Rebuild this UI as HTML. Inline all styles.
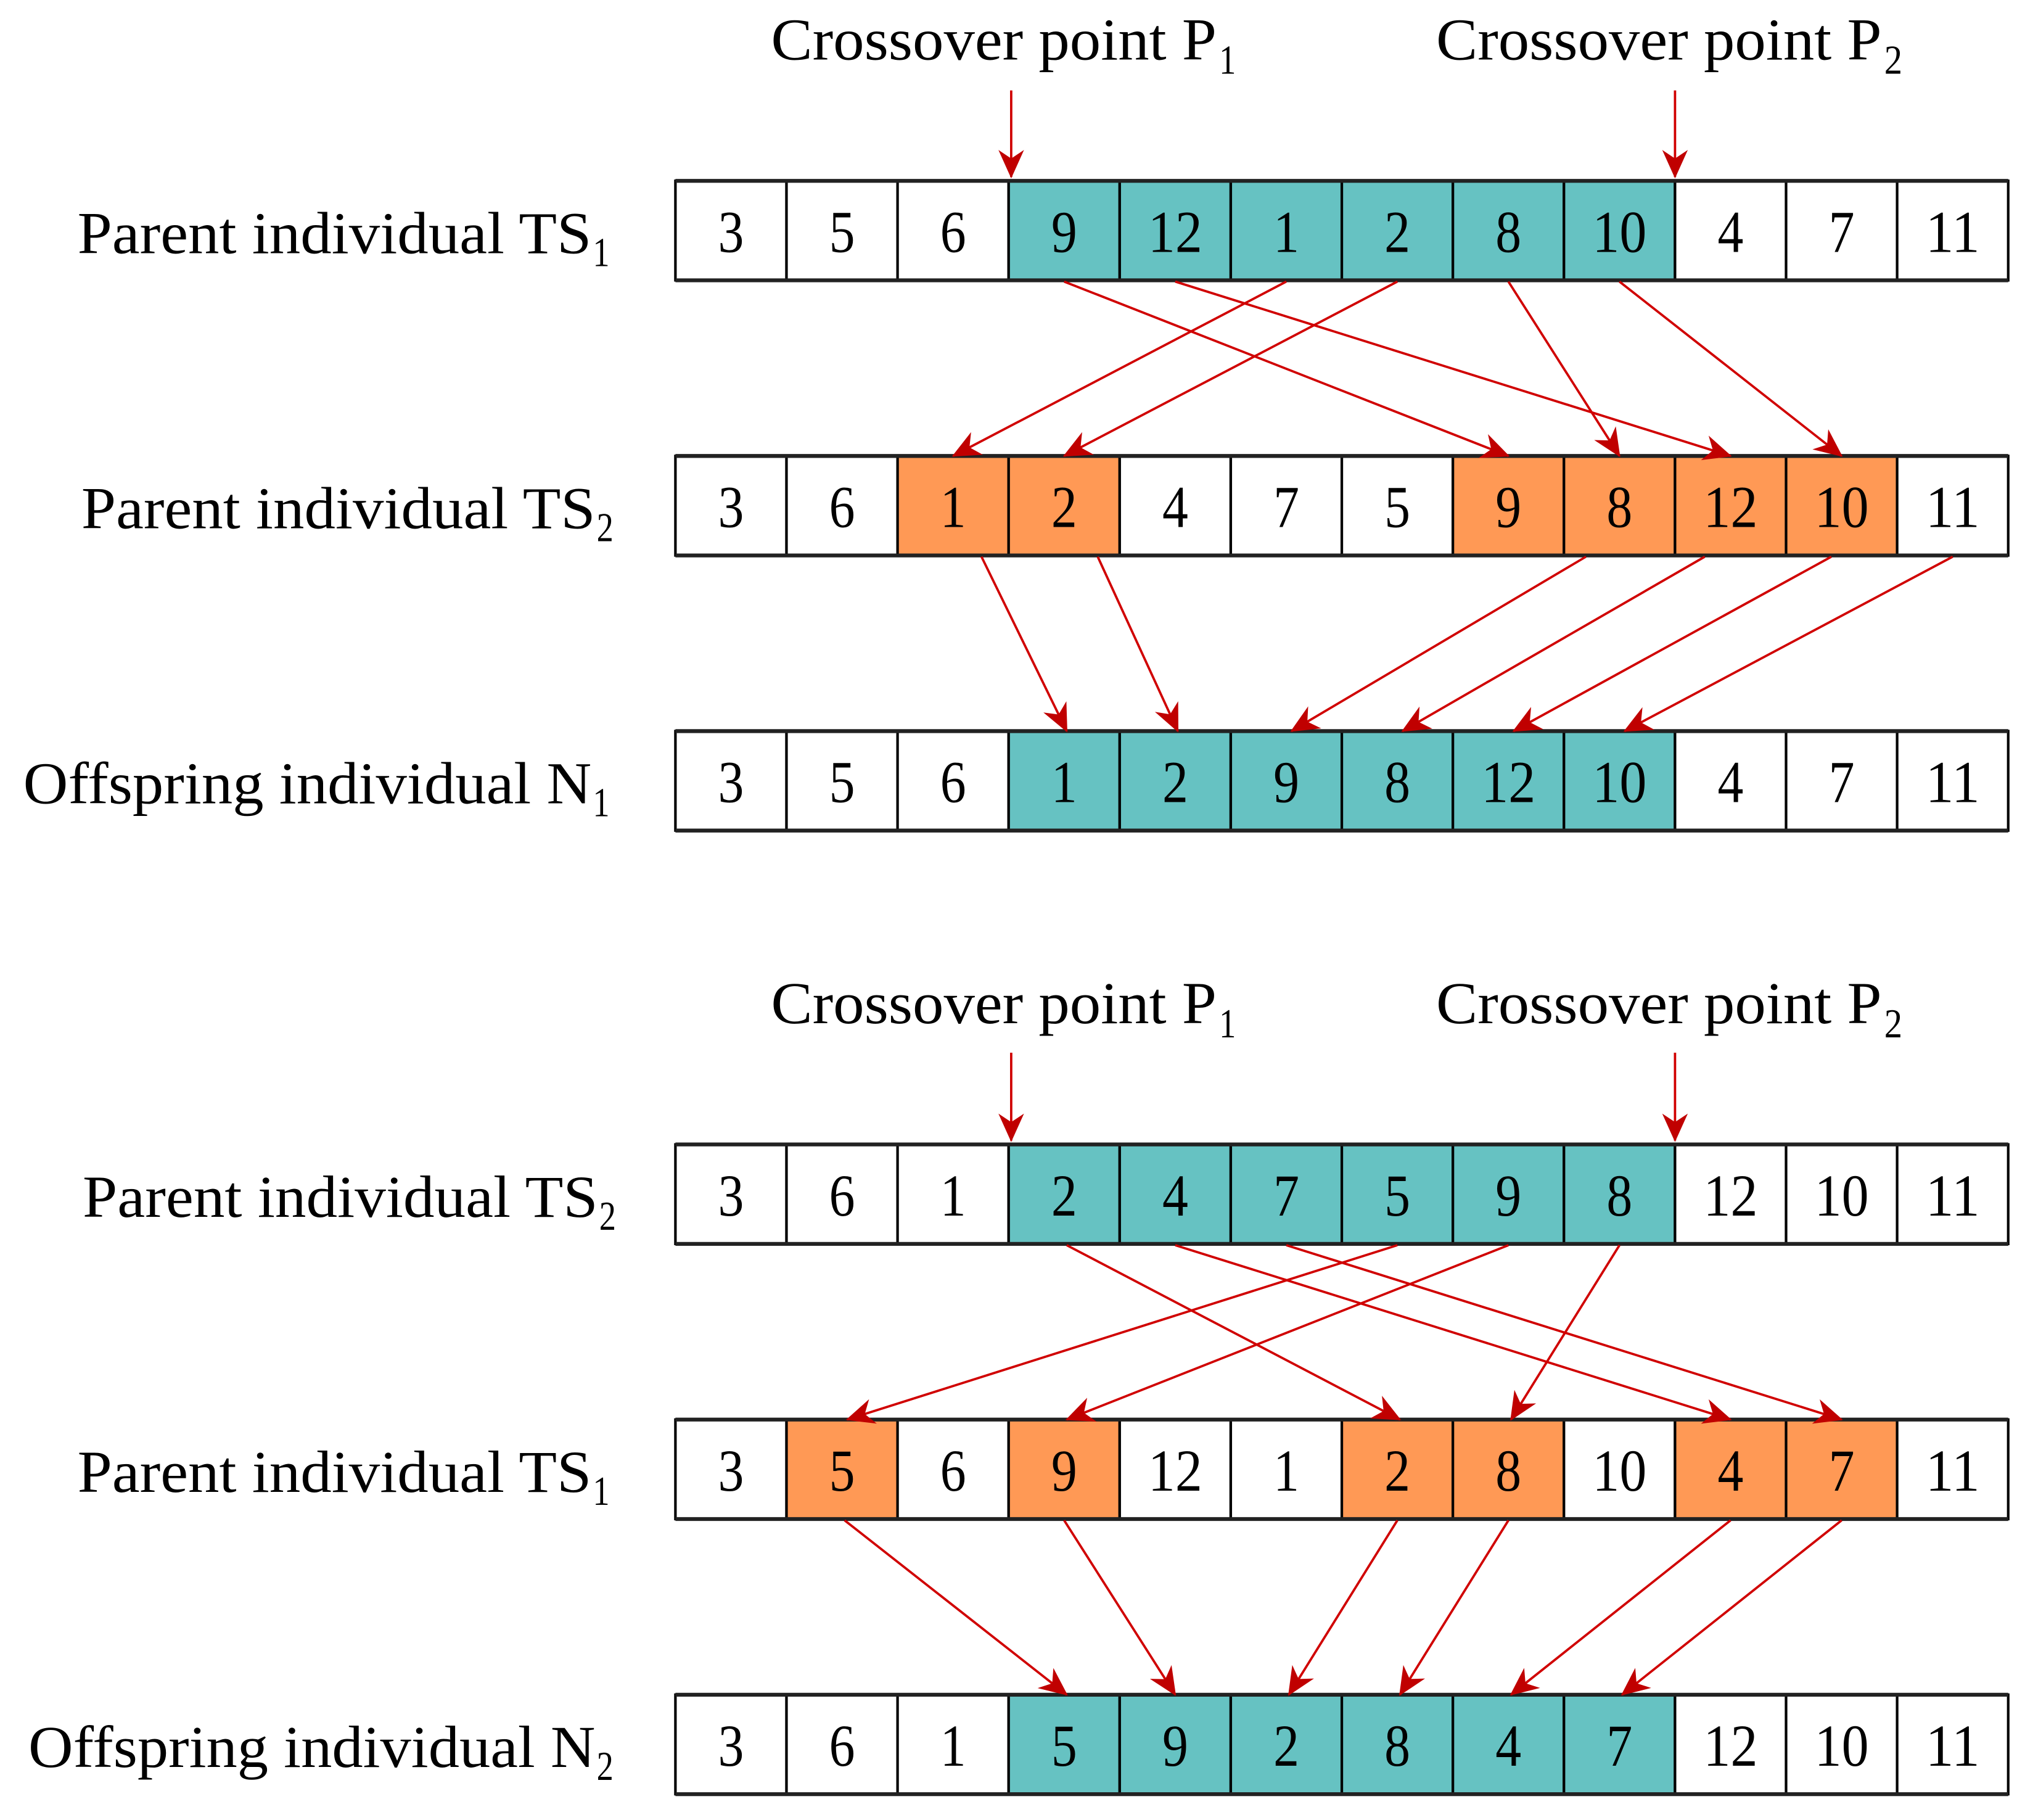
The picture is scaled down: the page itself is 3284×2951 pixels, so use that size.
<!DOCTYPE html>
<html><head><meta charset="utf-8"><style>
html,body{margin:0;padding:0;background:#fff;}
svg{display:block;}
text{font-family:"Liberation Serif",serif;fill:#000;}
</style></head><body>
<svg width="3284" height="2951" viewBox="0 0 1568 1409" xmlns="http://www.w3.org/2000/svg">
<defs>
<marker id="ah" markerWidth="22" markerHeight="22" viewBox="0 0 20 20" refX="19" refY="10" orient="auto" markerUnits="userSpaceOnUse">
<path d="M0,1 L20,10 L0,19 L6,10 Z" fill="#c00000"/>
</marker>
</defs>
</svg>
<script>
const svg=document.querySelector('svg');
const NS='http://www.w3.org/2000/svg';
function el(t,a,txt){const e=document.createElementNS(NS,t);for(const k in a)e.setAttribute(k,a[k]);if(txt!==undefined)e.textContent=txt;svg.appendChild(e);return e;}
const T='#66c2c2',O='#ff9955',W='#ffffff';
function row(y,vals,cols){
  for(let i=0;i<12;i++){
    const x=523+86*i;
    el('rect',{x:x,y:y,width:86,height:77,fill:cols[i],stroke:'#000','stroke-width':2});
  }
  el('line',{x1:523,y1:y,x2:1555,y2:y,stroke:'#222','stroke-width':3});
  el('line',{x1:523,y1:y+77,x2:1555,y2:y+77,stroke:'#222','stroke-width':3});
  for(let i=0;i<12;i++){
    const cx=566+86*i;const v=String(vals[i]);
    const w=v.length==1?20:42;
    el('text',{x:cx-w/2,y:y+55,'font-size':46,textLength:w,lengthAdjust:'spacingAndGlyphs'},v);
  }
}
function label(y,main,sub,x0,x1){
  el('text',{x:x0,y:y+56,'font-size':46,textLength:x1-x0,lengthAdjust:'spacingAndGlyphs'},main);
  el('text',{x:x1+1,y:y+66,'font-size':32,textLength:13,lengthAdjust:'spacingAndGlyphs'},sub);
}
function cross(y){
  el('text',{x:597,y:y,'font-size':46,textLength:345,lengthAdjust:'spacingAndGlyphs'},'Crossover point P');
  el('text',{x:944,y:y+11,'font-size':32,textLength:13,lengthAdjust:'spacingAndGlyphs'},'1');
  el('text',{x:1112,y:y,'font-size':46,textLength:345,lengthAdjust:'spacingAndGlyphs'},'Crossover point P');
  el('text',{x:1459,y:y+11,'font-size':32,textLength:14,lengthAdjust:'spacingAndGlyphs'},'2');
}
function arr(x1,y1,x2,y2){el('line',{x1:x1,y1:y1,x2:x2,y2:y2,stroke:'#d00000','stroke-width':1.8,'marker-end':'url(#ah)'});}
const w=W,t=T,o=O;
cross(46);
row(140,[3,5,6,9,12,1,2,8,10,4,7,11],[w,w,w,t,t,t,t,t,t,w,w,w]);
row(353,[3,6,1,2,4,7,5,9,8,12,10,11],[w,w,o,o,w,w,w,o,o,o,o,w]);
row(566,[3,5,6,1,2,9,8,12,10,4,7,11],[w,w,w,t,t,t,t,t,t,w,w,w]);
cross(792);
row(886,[3,6,1,2,4,7,5,9,8,12,10,11],[w,w,w,t,t,t,t,t,t,w,w,w]);
row(1099,[3,5,6,9,12,1,2,8,10,4,7,11],[w,o,w,o,w,w,o,o,w,o,o,w]);
row(1312,[3,6,1,5,9,2,8,4,7,12,10,11],[w,w,w,t,t,t,t,t,t,w,w,w]);
label(140,'Parent individual TS',1,60,458);
label(353,'Parent individual TS',2,63,461);
label(566,'Offspring individual N',1,18,458);
label(886,'Parent individual TS',2,64,463);
label(1099,'Parent individual TS',1,60,458);
label(1312,'Offspring individual N',2,22,461);
arr(783,70,783,137);arr(1297,70,1297,137);
arr(783,815,783,883);arr(1297,815,1297,883);
[[824,1168],[910,1340],[996,738],[1082,824],[1168,1254],[1254,1426]].forEach(a=>arr(a[0],218,a[1],353));
[[760,826],[850,912],[1228,1000],[1320,1086],[1418,1172],[1512,1258]].forEach(a=>arr(a[0],431,a[1],566));
[[826,1084],[910,1340],[996,1426],[1082,656],[1168,826],[1254,1170]].forEach(a=>arr(a[0],964,a[1],1099));
[[654,826],[824,910],[1082,998],[1168,1084],[1340,1170],[1426,1256]].forEach(a=>arr(a[0],1177,a[1],1312));
</script>
</body></html>
